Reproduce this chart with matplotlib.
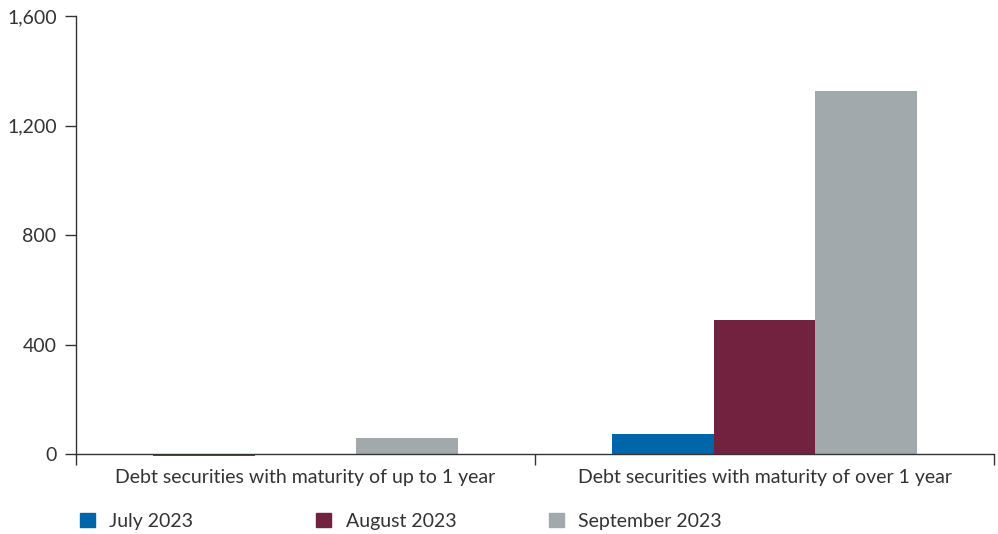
import numpy as np
import matplotlib.pyplot as plt
from matplotlib.patches import Patch

plt.rcParams['font.family'] = ['Lato', 'DejaVu Sans']

categories = ['Debt securities with maturity of up to 1 year',
              'Debt securities with maturity of over 1 year']
series = ['July 2023', 'August 2023', 'September 2023']
july = [-6, 73]
august = [0, 489]
september = [58, 1326]
colors = ['#0066a8', '#72223e', '#a2a9ac']

fig = plt.figure(figsize=(9.98, 5.34), dpi=100)
ax = fig.add_axes([0.0762, 0.1498, 0.9198, 0.8202])

x = np.arange(len(categories))
w = 0.222
for i, (vals, c) in enumerate(zip([july, august, september], colors)):
    ax.bar(x + (i - 1) * w, vals, width=w, color=c, clip_on=False, zorder=2)

ax.set_xlim(-0.5, 1.5)
ax.set_ylim(0, 1600)
ax.set_yticks(np.arange(0, 1601, 400))
ax.set_yticklabels([f'{v:,}' for v in range(0, 1601, 400)])

# category labels between tick marks
ax.set_xticks([-0.5, 0.5, 1.5])
ax.set_xticklabels([])
ax.set_xticks(x, minor=True)
ax.set_xticklabels(categories, minor=True)
ax.tick_params(axis='x', which='minor', length=0, pad=11)
ax.tick_params(axis='x', which='major', length=8, width=1, color='#333333')
ax.tick_params(axis='y', length=8, width=1, color='#333333', pad=6)
ax.tick_params(labelsize=14, labelcolor='#333333', which='both')

for s in ['top', 'right']:
    ax.spines[s].set_visible(False)
for s in ['left', 'bottom']:
    ax.spines[s].set_color('#333333')
    ax.spines[s].set_linewidth(1)
ax.spines['bottom'].set_zorder(3)

# legend entries at fixed positions
leg_x = [0.074, 0.311, 0.544]
for c, s, lx in zip(colors, series, leg_x):
    leg = fig.legend(handles=[Patch(color=c, label=s)], loc='center left',
                     bbox_to_anchor=(lx, 0.024), frameon=False, fontsize=14,
                     handlelength=0.78, handleheight=0.78, handletextpad=0.75,
                     borderaxespad=0, borderpad=0.3)
    for t in leg.get_texts():
        t.set_color('#333333')

fig.savefig('out.png', dpi=100)
